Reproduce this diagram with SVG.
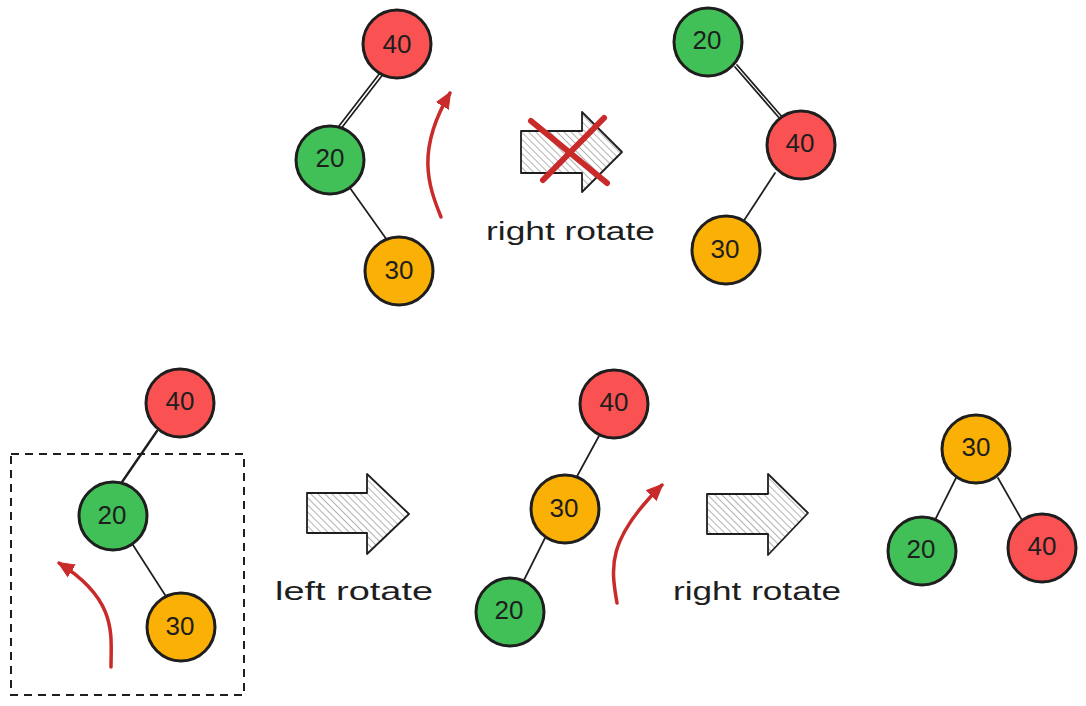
<svg xmlns="http://www.w3.org/2000/svg" width="1086" height="706" viewBox="0 0 1086 706">
<defs>
<pattern id="hatch" patternUnits="userSpaceOnUse" width="5" height="5" patternTransform="rotate(-45)">
<rect width="5" height="5" fill="#ffffff"/>
<line x1="0" y1="0" x2="0" y2="5" stroke="#8a8a8a" stroke-width="1.3"/>
</pattern>
<marker id="ah" markerUnits="userSpaceOnUse" markerWidth="18" markerHeight="16" refX="15" refY="8" orient="auto">
<path d="M0,1 L16,8 L0,15 Z" fill="#c92a2a" stroke="#c92a2a" stroke-width="1" stroke-linejoin="round"/>
</marker>
</defs>
<style>
.n circle{stroke:#1e1e1e;stroke-width:3}
.red{fill:#fa5252}
.green{fill:#40c057}
.orange{fill:#fab005}
.n text{font-family:"Liberation Sans","DejaVu Sans",sans-serif;font-size:26px;fill:#1e1e1e;text-anchor:middle;dominant-baseline:central}
.e{stroke:#1e1e1e;stroke-width:1.7;fill:none;stroke-linecap:round}
.rot{stroke:#c92a2a;stroke-width:3.5;fill:none;stroke-linecap:round;marker-end:url(#ah)}
.big{fill:url(#hatch);stroke:#1e1e1e;stroke-width:1.8;stroke-linejoin:round}
.lbl{font-family:"Liberation Sans","DejaVu Sans",sans-serif;font-size:26px;fill:#1e1e1e}
</style>
<rect width="1086" height="706" fill="#ffffff"/>

<g id="connectors">
<line class="e" x1="380" y1="73" x2="339" y2="126"/>
<line class="e" x1="382.5" y1="75" x2="341.5" y2="128"/>
<line class="e" x1="350" y1="188" x2="387" y2="240"/>
<line class="e" x1="735" y1="67" x2="781" y2="120"/>
<line class="e" x1="737" y1="65" x2="783" y2="118"/>
<line class="e" x1="775" y1="173" x2="743" y2="222"/>
<line class="e" style="stroke-width:2.4" x1="157" y1="431" x2="120" y2="485"/>
<line class="e" x1="133" y1="545" x2="167" y2="598"/>
<line class="e" x1="599" y1="436" x2="575" y2="480"/>
<line class="e" x1="545" y1="538" x2="523" y2="582"/>
<line class="e" x1="956" y1="478" x2="935" y2="520"/>
<line class="e" x1="998" y1="478" x2="1023" y2="522"/>
<path class="rot" d="M441,217 C428,185 416,150 450,93"/>
<path class="rot" d="M111,667 C111,635 118,600 59,563"/>
<path class="rot" d="M617,603 C611,568 606,540 662,485"/>
</g>

<g id="box">
<rect x="11" y="454" width="233" height="241" fill="none" stroke="#1e1e1e" stroke-width="2" stroke-dasharray="8 6"/>
</g>

<g id="arrow-top">
<polygon class="big" points="521,131 582,131 582,112 622,152 582,192 582,173 521,173"/>
<line x1="531" y1="121" x2="607" y2="183" stroke="#c92a2a" stroke-width="6" stroke-linecap="round"/>
<line x1="604" y1="118" x2="543" y2="180" stroke="#c92a2a" stroke-width="6" stroke-linecap="round"/>
</g>
<g id="arrow-left">
<polygon class="big" points="307,493 367,493 367,474 409,514 367,554 367,533 307,533"/>
</g>
<g id="arrow-right">
<polygon class="big" points="707,494 768,494 768,474 808,513 768,555 768,534 707,534"/>
</g>

<g id="labels">
<text class="lbl" x="486" y="240" textLength="169" lengthAdjust="spacingAndGlyphs">right rotate</text>
<text class="lbl" x="275" y="600" textLength="158" lengthAdjust="spacingAndGlyphs">left rotate</text>
<text class="lbl" x="673" y="600" textLength="168" lengthAdjust="spacingAndGlyphs">right rotate</text>
</g>

<g id="t1-40" class="n"><circle class="red" cx="397" cy="44" r="34"/><text x="397" y="44">40</text></g>
<g id="t1-20" class="n"><circle class="green" cx="330" cy="160" r="34"/><text x="330" y="158">20</text></g>
<g id="t1-30" class="n"><circle class="orange" cx="399" cy="271" r="34"/><text x="399" y="270">30</text></g>

<g id="t2-20" class="n"><circle class="green" cx="708" cy="42" r="34"/><text x="707" y="40">20</text></g>
<g id="t2-40" class="n"><circle class="red" cx="801" cy="145" r="34"/><text x="800" y="143">40</text></g>
<g id="t2-30" class="n"><circle class="orange" cx="726" cy="250" r="34"/><text x="725" y="249">30</text></g>

<g id="t3-40" class="n"><circle class="red" cx="180" cy="403" r="34"/><text x="180" y="401">40</text></g>
<g id="t3-20" class="n"><circle class="green" cx="113" cy="516" r="34"/><text x="112" y="515">20</text></g>
<g id="t3-30" class="n"><circle class="orange" cx="181" cy="627" r="34"/><text x="180" y="626">30</text></g>

<g id="t4-40" class="n"><circle class="red" cx="614" cy="404" r="34"/><text x="614" y="402">40</text></g>
<g id="t4-30" class="n"><circle class="orange" cx="565" cy="509" r="34"/><text x="564" y="508">30</text></g>
<g id="t4-20" class="n"><circle class="green" cx="510" cy="612" r="34"/><text x="509" y="610">20</text></g>

<g id="t5-30" class="n"><circle class="orange" cx="976" cy="449" r="34"/><text x="976" y="447">30</text></g>
<g id="t5-20" class="n"><circle class="green" cx="922" cy="551" r="34"/><text x="921" y="549">20</text></g>
<g id="t5-40" class="n"><circle class="red" cx="1042" cy="548" r="34"/><text x="1042" y="546">40</text></g>
</svg>
